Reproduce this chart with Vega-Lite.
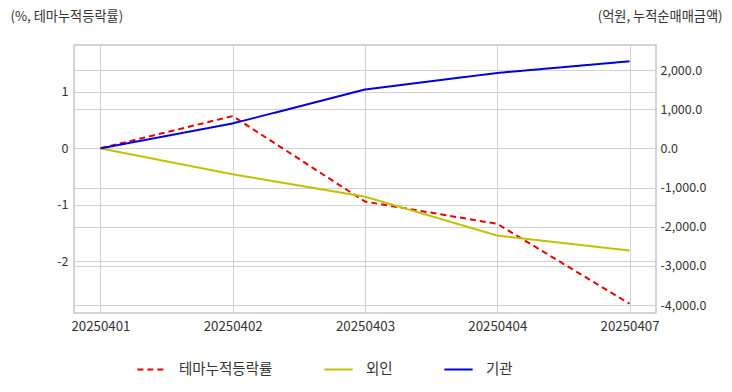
{
  "$schema": "https://vega.github.io/schema/vega-lite/v6.json",
  "width": 582,
  "height": 268,
  "autosize": {"type": "none"},
  "padding": {"left": 74, "top": 45, "right": 76, "bottom": 79},
  "config": {
    "font": "Noto Sans CJK KR",
    "locale": {"number": {"decimal": ".", "thousands": ",", "grouping": [3], "currency": ["", ""], "minus": "-"}},
    "view": {"stroke": "#c8c8c8", "strokeWidth": 1.5},
    "axis": {
      "labelFont": "Noto Sans CJK KR",
      "labelFontSize": 12.5,
      "labelColor": "#333333",
      "gridColor": "#d2d2d2",
      "gridWidth": 1,
      "domain": false,
      "ticks": false,
      "titleFont": "Noto Sans CJK KR",
      "titleFontSize": 13.2,
      "titleFontWeight": "normal",
      "titleColor": "#333333"
    },
    "legend": {
      "orient": "none",
      "legendX": 62,
      "legendY": 309,
      "direction": "horizontal",
      "title": null,
      "labelFont": "Noto Sans CJK KR",
      "labelFontSize": 14.5,
      "labelColor": "#333333",
      "symbolType": "stroke",
      "symbolStrokeWidth": 2,
      "symbolSize": 800,
      "labelOffset": 12,
      "columnPadding": 47
    }
  },
  "data": {
    "values": [
      {"date": "20250401", "series": "테마누적등락률", "value": 0},
      {"date": "20250402", "series": "테마누적등락률", "value": 0.57},
      {"date": "20250403", "series": "테마누적등락률", "value": -0.945},
      {"date": "20250404", "series": "테마누적등락률", "value": -1.34},
      {"date": "20250407", "series": "테마누적등락률", "value": -2.756},
      {"date": "20250401", "series": "외인", "value": 0},
      {"date": "20250402", "series": "외인", "value": -662},
      {"date": "20250403", "series": "외인", "value": -1233},
      {"date": "20250404", "series": "외인", "value": -2227},
      {"date": "20250407", "series": "외인", "value": -2609},
      {"date": "20250401", "series": "기관", "value": 0},
      {"date": "20250402", "series": "기관", "value": 637},
      {"date": "20250403", "series": "기관", "value": 1503},
      {"date": "20250404", "series": "기관", "value": 1926},
      {"date": "20250407", "series": "기관", "value": 2224}
    ]
  },
  "encoding": {
    "x": {
      "field": "date",
      "type": "ordinal",
      "sort": null,
      "scale": {"type": "point", "padding": 0.2},
      "axis": {"labelAngle": 0, "grid": true, "title": null, "labelPadding": 6, "labelFontSize": 13.3}
    },
    "color": {
      "field": "series",
      "type": "nominal",
      "scale": {"domain": ["테마누적등락률", "외인", "기관"], "range": ["#e60000", "#c0c000", "#0000dd"]}
    },
    "strokeDash": {
      "field": "series",
      "type": "nominal",
      "scale": {"domain": ["테마누적등락률", "외인", "기관"], "range": [[6, 4], [1, 0], [1, 0]]}
    }
  },
  "layer": [
    {
      "transform": [{"filter": "datum.series === '테마누적등락률'"}],
      "mark": {"type": "line", "strokeWidth": 2},
      "encoding": {
        "y": {
          "field": "value",
          "type": "quantitative",
          "scale": {"domain": [-2.92, 1.83], "nice": false, "zero": false},
          "axis": {
            "values": [-2, -1, 0, 1],
            "format": "d",
            "grid": true,
            "labelPadding": 6,
            "title": "(%, 테마누적등락률)",
            "titleAngle": 0,
            "titleAlign": "left",
            "titleBaseline": "middle",
            "titleX": -64,
            "titleY": -29
          }
        }
      }
    },
    {
      "transform": [{"filter": "datum.series !== '테마누적등락률'"}],
      "mark": {"type": "line", "strokeWidth": 2},
      "encoding": {
        "y": {
          "field": "value",
          "type": "quantitative",
          "scale": {"domain": [-4204, 2640], "nice": false, "zero": false},
          "axis": {
            "orient": "right",
            "values": [-4000, -3000, -2000, -1000, 0, 1000, 2000],
            "format": ",.1f",
            "grid": true,
            "labelPadding": 4,
            "title": "(억원, 누적순매매금액)",
            "titleAngle": 0,
            "titleAlign": "right",
            "titleBaseline": "middle",
            "titleX": 66,
            "titleY": -29
          }
        }
      }
    }
  ],
  "resolve": {"scale": {"y": "independent", "color": "shared", "strokeDash": "shared"}}
}
